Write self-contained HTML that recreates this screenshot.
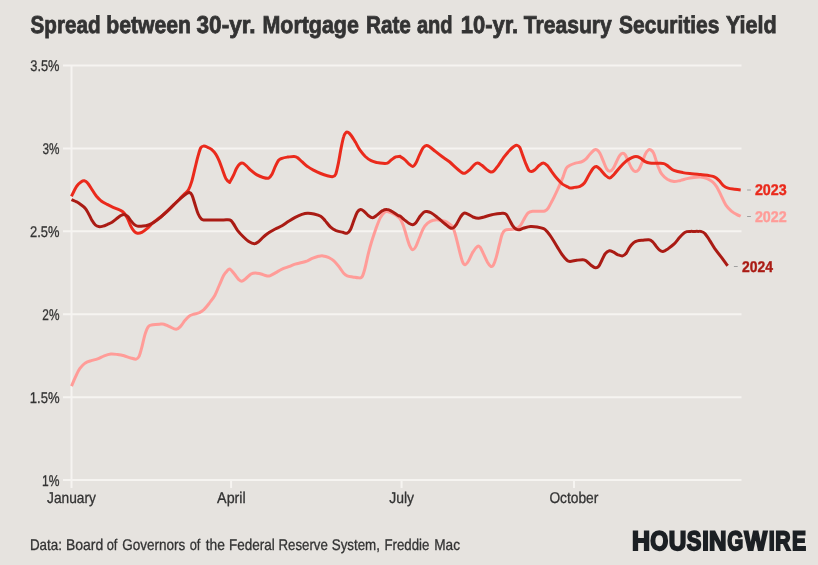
<!DOCTYPE html>
<html lang="en"><head><meta charset="utf-8"><title>Spread between 30-yr. Mortgage Rate and 10-yr. Treasury Securities Yield</title>
<style>
html,body{margin:0;padding:0;background:#e6e3df;}
body{width:818px;height:565px;overflow:hidden;}
svg{display:block;font-family:"Liberation Sans", sans-serif;text-rendering:geometricPrecision;}
</style></head><body>
<svg width="818" height="565" viewBox="0 0 818 565">
<rect width="818" height="565" fill="#e6e3df"/>
<line x1="63.0" x2="741.5" y1="65.5" y2="65.5" stroke="#f6f4f1" stroke-width="2"/>
<line x1="63.0" x2="741.5" y1="148.4" y2="148.4" stroke="#f6f4f1" stroke-width="2"/>
<line x1="63.0" x2="741.5" y1="231.3" y2="231.3" stroke="#f6f4f1" stroke-width="2"/>
<line x1="63.0" x2="741.5" y1="314.3" y2="314.3" stroke="#f6f4f1" stroke-width="2"/>
<line x1="63.0" x2="741.5" y1="397.2" y2="397.2" stroke="#f6f4f1" stroke-width="2"/>
<line x1="63.0" x2="741.5" y1="480.1" y2="480.1" stroke="#f6f4f1" stroke-width="2"/>
<line x1="71.5" x2="71.5" y1="65" y2="488" stroke="#f6f4f1" stroke-width="2"/>
<line x1="231.1" x2="231.1" y1="480" y2="488" stroke="#f6f4f1" stroke-width="2"/>
<line x1="401.6" x2="401.6" y1="480" y2="488" stroke="#f6f4f1" stroke-width="2"/>
<line x1="574.0" x2="574.0" y1="480" y2="488" stroke="#f6f4f1" stroke-width="2"/>
<text x="30.26" y="70.9" font-size="15.5" font-weight="normal" fill="#333333" textLength="29.25" lengthAdjust="spacingAndGlyphs" stroke="#333333" stroke-width="0.3">3.5%</text>
<text x="42.50" y="153.8" font-size="15.5" font-weight="normal" fill="#333333" textLength="16.97" lengthAdjust="spacingAndGlyphs" stroke="#333333" stroke-width="0.3">3%</text>
<text x="30.10" y="236.7" font-size="15.5" font-weight="normal" fill="#333333" textLength="29.41" lengthAdjust="spacingAndGlyphs" stroke="#333333" stroke-width="0.3">2.5%</text>
<text x="42.35" y="319.7" font-size="15.5" font-weight="normal" fill="#333333" textLength="17.12" lengthAdjust="spacingAndGlyphs" stroke="#333333" stroke-width="0.3">2%</text>
<text x="29.76" y="402.6" font-size="15.5" font-weight="normal" fill="#333333" textLength="29.76" lengthAdjust="spacingAndGlyphs" stroke="#333333" stroke-width="0.3">1.5%</text>
<text x="42.03" y="485.5" font-size="15.5" font-weight="normal" fill="#333333" textLength="17.45" lengthAdjust="spacingAndGlyphs" stroke="#333333" stroke-width="0.3">1%</text>
<text x="47.04" y="502.7" font-size="15.5" font-weight="normal" fill="#333333" textLength="48.84" lengthAdjust="spacingAndGlyphs" stroke="#333333" stroke-width="0.3">January</text>
<text x="217.12" y="502.7" font-size="15.5" font-weight="normal" fill="#333333" textLength="28.58" lengthAdjust="spacingAndGlyphs" stroke="#333333" stroke-width="0.3">April</text>
<text x="389.23" y="502.7" font-size="15.5" font-weight="normal" fill="#333333" textLength="24.85" lengthAdjust="spacingAndGlyphs" stroke="#333333" stroke-width="0.3">July</text>
<text x="549.40" y="502.7" font-size="15.5" font-weight="normal" fill="#333333" textLength="48.98" lengthAdjust="spacingAndGlyphs" stroke="#333333" stroke-width="0.3">October</text>
<path d="M71.5,386.1C72.2,384.5 74.1,379.8 75.5,376.8C76.9,373.9 78.2,370.7 79.9,368.4C81.6,366.1 83.6,364.2 85.4,362.9C87.3,361.6 88.9,361.3 91.0,360.7C93.0,360.0 95.4,359.7 97.6,358.9C99.8,358.1 102.0,356.6 104.2,355.8C106.4,355.0 108.6,354.3 110.9,354.0C113.1,353.8 115.3,354.2 117.5,354.5C119.7,354.8 121.9,355.2 124.1,355.8C126.3,356.4 128.7,357.5 130.8,358.0C132.8,358.6 134.9,359.4 136.3,359.1C137.7,358.8 138.2,358.2 139.2,356.2C140.1,354.3 140.8,351.1 141.8,347.4C142.8,343.7 144.0,337.6 145.1,334.1C146.2,330.6 147.2,327.9 148.5,326.4C149.7,324.8 151.0,325.2 152.9,324.8C154.7,324.5 157.7,324.3 159.5,324.2C161.4,324.1 162.3,323.8 163.9,324.2C165.6,324.6 167.4,325.8 169.5,326.6C171.5,327.5 174.3,329.3 176.1,329.3C177.9,329.2 179.0,327.9 180.5,326.4C182.0,324.9 183.5,322.1 184.9,320.4C186.4,318.7 187.9,317.0 189.4,316.0C190.8,315.0 192.1,314.8 193.8,314.2C195.4,313.7 197.7,313.4 199.3,312.7C201.0,311.9 202.1,311.4 203.7,309.8C205.4,308.2 207.4,305.6 209.3,303.2C211.1,300.8 213.1,298.4 214.8,295.4C216.4,292.5 217.7,288.8 219.2,285.5C220.7,282.2 222.3,277.9 223.6,275.5C224.9,273.1 225.9,272.2 227.0,271.1C228.0,270.0 228.8,268.7 230.0,269.2C231.2,269.7 232.9,272.3 234.4,274.0C235.9,275.8 237.6,278.4 238.8,279.6C240.1,280.7 241.0,281.3 242.2,281.1C243.3,280.9 244.4,279.6 245.9,278.5C247.4,277.3 249.4,275.0 251.0,274.0C252.6,273.1 253.8,272.9 255.4,272.9C257.1,272.9 259.1,273.6 261.0,274.0C262.8,274.5 265.0,275.5 266.5,275.8C268.0,276.1 268.3,276.3 269.8,275.8C271.3,275.3 273.3,274.0 275.3,272.9C277.4,271.8 279.8,270.2 282.0,269.2C284.2,268.1 286.4,267.6 288.6,266.7C290.8,265.9 293.0,264.8 295.2,264.1C297.4,263.4 299.8,263.1 301.9,262.5C303.9,262.0 305.6,261.5 307.4,260.8C309.2,260.0 311.1,258.8 312.9,258.1C314.8,257.4 316.8,256.7 318.5,256.3C320.1,256.0 321.2,255.7 322.9,255.9C324.5,256.1 326.6,256.6 328.4,257.4C330.2,258.3 332.1,259.1 333.9,260.8C335.8,262.4 337.8,265.3 339.5,267.4C341.1,269.5 342.6,272.2 343.9,273.6C345.2,275.0 345.7,275.2 347.2,275.8C348.7,276.4 350.9,276.6 352.7,276.9C354.6,277.2 356.7,277.8 358.3,277.8C359.8,277.8 360.9,278.5 362.0,276.9C363.1,275.4 363.9,272.3 364.9,268.5C365.9,264.7 367.1,258.6 368.2,254.1C369.3,249.7 370.2,246.2 371.5,242.0C372.8,237.7 374.5,232.8 375.9,228.7C377.4,224.6 378.9,220.4 380.4,217.6C381.8,214.9 383.5,213.1 384.8,212.1C386.1,211.1 386.6,211.4 388.1,211.7C389.6,212.0 392.2,213.1 393.6,213.9C395.1,214.6 395.9,215.3 397.0,216.1C398.0,216.9 398.9,217.2 400.0,218.7C401.1,220.3 402.2,222.4 403.3,225.4C404.4,228.3 405.5,232.9 406.6,236.4C407.7,239.9 408.9,244.2 410.0,246.4C411.0,248.6 411.8,249.7 412.8,249.7C413.8,249.7 414.8,248.4 415.9,246.4C417.0,244.4 418.2,240.5 419.5,237.5C420.7,234.6 421.9,231.1 423.2,228.7C424.6,226.3 426.0,224.6 427.6,223.2C429.3,221.8 431.3,220.8 433.2,220.3C435.0,219.7 436.9,219.7 438.7,219.9C440.5,220.0 442.4,220.2 444.2,221.0C446.1,221.7 448.3,223.2 449.8,224.3C451.2,225.4 452.0,225.2 453.1,227.6C454.2,230.0 455.3,234.6 456.4,238.6C457.5,242.7 458.7,248.0 459.7,251.9C460.7,255.8 461.7,259.7 462.6,261.9C463.5,264.0 464.2,264.9 465.2,264.7C466.2,264.6 467.3,262.9 468.6,260.8C469.8,258.6 471.5,254.3 473.0,251.9C474.4,249.5 476.2,247.2 477.4,246.4C478.6,245.6 479.0,245.8 480.0,247.1C481.1,248.3 482.4,251.7 483.6,254.1C484.8,256.6 486.2,259.8 487.3,261.9C488.5,263.9 489.7,265.7 490.7,266.3C491.7,266.8 492.4,266.7 493.3,265.2C494.2,263.7 495.2,260.9 496.2,257.4C497.2,253.9 498.5,248.0 499.5,244.2C500.5,240.3 501.2,236.5 502.2,234.2C503.1,231.9 503.6,231.1 505.0,230.2C506.4,229.4 508.7,229.6 510.6,229.4C512.4,229.1 514.4,229.4 516.1,228.7C517.8,228.0 519.0,227.2 520.5,225.4C522.0,223.5 523.6,219.7 524.9,217.6C526.2,215.5 527.0,213.8 528.3,212.8C529.5,211.7 530.8,211.5 532.7,211.2C534.5,211.0 537.3,211.3 539.3,211.2C541.3,211.2 543.4,211.5 544.8,211.0C546.3,210.5 546.9,210.0 548.2,208.1C549.4,206.3 551.0,203.0 552.6,200.0C554.1,196.9 555.7,193.8 557.4,190.0C559.2,186.2 561.5,180.7 563.0,177.1C564.4,173.4 565.1,170.2 566.3,168.2C567.5,166.3 568.5,166.2 570.0,165.3C571.5,164.5 573.7,163.7 575.5,163.1C577.4,162.6 579.4,162.6 581.1,162.0C582.7,161.4 584.0,160.7 585.5,159.4C587.0,158.1 588.4,155.9 589.9,154.3C591.4,152.7 593.1,150.6 594.3,149.9C595.5,149.1 596.1,149.3 597.0,149.9C597.9,150.4 598.8,151.3 599.9,153.2C600.9,155.0 602.1,158.3 603.2,160.9C604.3,163.5 605.4,166.9 606.5,168.6C607.6,170.4 608.7,171.3 609.8,171.3C610.9,171.3 612.0,170.2 613.1,168.6C614.2,167.1 615.3,164.2 616.4,162.0C617.5,159.8 618.7,156.9 619.8,155.4C620.8,153.9 621.7,153.2 622.6,153.2C623.6,153.1 624.3,153.5 625.3,154.9C626.3,156.4 627.5,159.7 628.6,162.0C629.7,164.3 630.8,167.1 631.9,168.6C633.0,170.2 634.1,171.3 635.2,171.5C636.3,171.7 637.4,171.2 638.6,169.8C639.7,168.4 640.8,165.7 641.9,163.1C643.0,160.5 644.1,156.5 645.2,154.3C646.3,152.1 647.6,150.6 648.5,149.9C649.4,149.1 649.9,149.3 650.7,149.9C651.6,150.4 652.7,151.3 653.6,153.2C654.5,155.0 655.4,158.5 656.2,160.9C657.1,163.3 657.5,165.3 658.5,167.5C659.4,169.8 660.3,172.2 661.8,174.2C663.2,176.1 665.3,178.0 667.3,179.3C669.3,180.5 671.7,181.3 673.9,181.5C676.1,181.7 678.4,180.8 680.6,180.4C682.8,179.9 685.0,179.1 687.2,178.6C689.4,178.1 691.6,177.8 693.8,177.5C696.0,177.2 698.3,176.9 700.5,177.1C702.7,177.2 705.1,177.8 707.1,178.6C709.1,179.4 711.0,180.4 712.6,181.9C714.3,183.4 715.6,185.0 717.1,187.4C718.5,189.8 720.0,193.3 721.5,196.3C722.9,199.2 724.2,202.7 725.9,205.1C727.6,207.6 729.6,209.5 731.4,211.1C733.3,212.7 735.4,213.8 737.0,214.6C738.5,215.5 740.1,215.9 740.7,216.2" fill="none" stroke="#ff9c98" stroke-width="3" stroke-linejoin="round" stroke-linecap="butt"/>
<path d="M71.5,196.3C72.3,194.6 75.0,188.7 76.6,186.3C78.2,183.9 79.7,182.8 81.0,181.9C82.3,181.0 83.2,180.6 84.3,180.8C85.4,181.0 86.4,181.5 87.6,183.0C88.9,184.5 90.6,187.4 92.1,189.7C93.5,191.9 95.0,194.4 96.5,196.3C98.0,198.1 99.3,199.4 100.9,200.7C102.6,202.0 104.4,202.9 106.4,204.0C108.5,205.1 110.9,206.4 113.1,207.3C115.3,208.3 117.9,209.1 119.7,210.0C121.5,210.9 122.8,211.5 124.1,212.9C125.4,214.3 126.3,216.2 127.4,218.4C128.6,220.6 129.7,224.0 130.8,226.1C131.9,228.3 133.0,230.0 134.1,231.2C135.2,232.4 136.1,233.0 137.4,233.2C138.7,233.4 140.2,233.1 141.8,232.3C143.5,231.5 145.5,229.9 147.3,228.4C149.2,226.8 150.8,224.6 152.9,222.8C154.9,221.1 157.3,219.5 159.5,217.7C161.7,216.0 163.9,214.4 166.1,212.4C168.4,210.4 170.6,208.0 172.8,205.8C175.0,203.6 177.4,201.2 179.4,199.2C181.4,197.1 183.5,195.1 184.9,193.6C186.4,192.1 187.1,192.1 188.3,190.1C189.4,188.1 190.5,185.5 191.6,181.9C192.7,178.3 193.8,173.1 194.9,168.6C196.0,164.2 197.2,158.9 198.2,155.4C199.2,151.9 199.9,149.2 200.9,147.6C201.8,146.1 202.7,146.2 203.7,146.1C204.8,146.0 205.8,146.4 207.1,147.0C208.3,147.5 210.0,148.2 211.5,149.4C212.9,150.6 214.6,152.4 215.9,154.3C217.2,156.2 218.1,158.3 219.2,160.9C220.3,163.5 221.4,166.8 222.5,169.8C223.6,172.7 224.7,176.3 225.8,178.4C227.0,180.4 228.5,181.6 229.2,182.1C229.9,182.7 229.3,182.8 230.0,181.7C230.7,180.6 232.2,178.0 233.3,175.7C234.4,173.5 235.5,170.2 236.6,168.2C237.7,166.2 238.9,164.6 240.0,163.8C241.0,162.9 241.7,162.8 242.8,163.1C243.9,163.5 245.2,164.8 246.6,166.0C247.9,167.2 249.3,169.0 251.0,170.4C252.7,171.9 254.5,173.4 256.5,174.6C258.6,175.8 261.1,176.9 263.2,177.5C265.2,178.1 267.2,178.7 268.7,178.2C270.2,177.6 270.9,176.1 272.0,174.2C273.1,172.2 274.2,168.8 275.3,166.4C276.4,164.1 277.5,161.6 278.6,160.2C279.8,158.9 280.5,158.8 282.0,158.3C283.4,157.7 285.5,157.4 287.5,157.1C289.5,156.9 292.5,156.4 294.1,156.5C295.8,156.6 296.2,156.7 297.4,157.6C298.7,158.4 300.2,160.1 301.9,161.6C303.5,163.0 305.4,165.0 307.4,166.4C309.4,167.9 311.8,169.2 314.0,170.4C316.2,171.6 318.5,172.6 320.7,173.5C322.9,174.4 325.3,175.2 327.3,175.7C329.3,176.2 331.4,176.9 332.8,176.6C334.2,176.4 334.8,176.4 335.7,174.2C336.6,171.9 337.4,167.5 338.4,163.1C339.3,158.7 340.3,152.1 341.2,147.6C342.1,143.2 342.9,139.1 343.7,136.6C344.4,134.1 345.1,133.3 345.9,132.6C346.6,131.9 347.2,131.9 348.1,132.4C349.0,132.9 350.0,133.9 351.2,135.5C352.4,137.1 353.9,139.7 355.4,142.1C356.8,144.5 358.1,147.5 359.8,149.9C361.5,152.2 363.5,154.7 365.3,156.5C367.2,158.3 369.1,159.7 371.1,160.7C373.0,161.7 375.1,162.0 377.1,162.5C379.0,162.9 380.8,163.2 382.6,163.3C384.3,163.5 386.0,163.7 387.4,163.1C388.9,162.5 390.0,160.8 391.4,159.8C392.8,158.8 394.4,157.5 395.8,156.9C397.2,156.4 399.1,156.6 399.8,156.5C400.5,156.4 399.2,156.0 400.0,156.5C400.8,157.0 402.9,158.1 404.4,159.4C405.9,160.6 407.4,162.6 408.8,163.8C410.2,165.0 411.6,166.5 412.8,166.4C414.0,166.3 414.8,165.0 415.9,163.1C417.0,161.2 418.2,157.5 419.5,154.9C420.7,152.4 422.0,149.2 423.2,147.6C424.4,146.1 425.4,145.5 426.5,145.4C427.6,145.3 428.4,146.0 429.9,147.0C431.3,148.0 433.4,149.8 435.4,151.4C437.4,153.0 439.6,154.7 442.0,156.5C444.4,158.3 447.4,160.1 449.8,162.0C452.1,164.0 454.4,166.4 456.4,168.2C458.4,170.0 460.4,171.8 461.9,172.6C463.4,173.4 463.9,173.6 465.2,173.1C466.5,172.6 468.2,171.1 469.7,169.8C471.1,168.4 472.7,166.0 474.1,164.9C475.4,163.8 476.5,163.0 477.8,163.1C479.1,163.2 480.4,164.3 481.8,165.3C483.2,166.3 484.8,168.0 486.2,169.1C487.7,170.2 489.4,171.7 490.7,172.0C492.0,172.3 492.7,172.0 494.0,170.9C495.3,169.8 496.7,167.6 498.4,165.3C500.1,163.0 502.1,159.6 503.9,157.1C505.8,154.7 507.8,152.3 509.5,150.5C511.1,148.7 512.6,147.4 513.9,146.5C515.2,145.7 516.2,145.2 517.2,145.4C518.2,145.6 518.9,146.0 519.9,147.6C520.8,149.3 521.7,152.6 522.7,155.4C523.8,158.1 525.0,161.7 526.0,164.2C527.1,166.7 528.0,169.2 528.9,170.4C529.8,171.6 530.6,171.6 531.6,171.5C532.6,171.4 533.6,170.8 534.9,169.8C536.2,168.7 537.9,166.4 539.3,165.3C540.7,164.2 542.0,163.1 543.3,163.1C544.6,163.1 545.7,164.0 547.1,165.3C548.4,166.7 549.8,169.1 551.5,171.3C553.1,173.5 555.2,176.5 557.0,178.6C558.8,180.7 560.7,182.7 562.5,184.1C564.4,185.5 566.8,186.3 568.1,187.0C569.3,187.7 568.9,188.0 570.0,188.1C571.1,188.2 572.8,187.7 574.4,187.4C576.1,187.1 578.3,187.1 580.0,186.3C581.6,185.6 582.9,184.9 584.4,183.0C585.8,181.2 587.3,177.8 588.8,175.3C590.3,172.8 591.9,169.7 593.2,168.2C594.5,166.7 595.4,166.3 596.5,166.4C597.6,166.6 598.4,167.6 599.9,169.1C601.3,170.6 603.7,173.8 605.4,175.3C607.0,176.8 608.3,178.1 609.8,177.9C611.3,177.8 612.6,175.9 614.2,174.2C615.9,172.4 617.7,169.8 619.8,167.5C621.8,165.3 624.4,162.6 626.4,160.9C628.4,159.3 630.3,158.3 631.9,157.6C633.5,156.9 634.6,156.5 635.9,156.5C637.2,156.5 638.1,156.7 639.7,157.6C641.2,158.4 643.5,160.7 645.2,161.6C646.8,162.5 647.6,162.8 649.6,163.1C651.6,163.4 655.0,163.3 657.3,163.3C659.7,163.4 662.1,163.0 664.0,163.6C665.8,164.1 666.7,165.3 668.4,166.4C670.1,167.6 671.5,169.4 673.9,170.4C676.3,171.4 679.8,172.1 682.8,172.6C685.7,173.2 688.7,173.4 691.6,173.7C694.6,174.1 697.5,174.3 700.5,174.6C703.4,175.0 706.9,175.3 709.3,175.7C711.7,176.1 713.2,176.2 714.8,177.1C716.5,177.9 717.8,179.3 719.3,180.8C720.7,182.3 722.2,184.7 723.7,185.9C725.2,187.1 726.3,187.6 728.1,188.1C730.0,188.7 732.6,188.9 734.7,189.2C736.8,189.5 739.7,189.8 740.7,189.9" fill="none" stroke="#ea2a1c" stroke-width="3" stroke-linejoin="round" stroke-linecap="butt"/>
<path d="M71.5,199.6C72.3,200.0 75.0,201.0 76.6,201.8C78.2,202.7 79.5,203.6 81.0,204.7C82.5,205.8 84.1,206.9 85.4,208.5C86.7,210.0 87.6,212.0 88.7,214.0C89.9,216.0 91.0,218.8 92.1,220.6C93.2,222.5 94.3,224.0 95.4,225.0C96.5,226.0 97.4,226.4 98.7,226.6C100.0,226.8 101.6,226.5 103.1,226.1C104.6,225.8 106.1,225.0 107.5,224.4C109.0,223.7 110.5,223.1 112.0,222.2C113.4,221.2 114.9,220.0 116.4,218.8C117.9,217.7 119.5,216.3 120.8,215.5C122.1,214.8 123.0,214.3 124.1,214.4C125.2,214.5 126.3,215.2 127.4,216.2C128.6,217.2 129.7,219.3 130.8,220.6C131.9,222.0 133.0,223.5 134.1,224.4C135.2,225.3 135.9,225.8 137.4,226.1C138.9,226.4 141.1,226.3 142.9,226.1C144.8,226.0 146.6,225.7 148.5,225.0C150.3,224.4 152.0,223.5 154.0,222.2C156.0,220.9 158.4,219.1 160.6,217.3C162.8,215.5 165.0,213.2 167.2,211.1C169.5,209.0 171.7,206.8 173.9,204.7C176.1,202.6 178.5,200.3 180.5,198.5C182.5,196.7 184.6,195.1 186.0,194.1C187.5,193.1 188.4,192.3 189.4,192.5C190.4,192.7 191.1,193.3 192.0,195.2C192.9,197.1 193.9,200.9 194.9,204.0C195.9,207.2 197.1,211.5 198.2,214.0C199.3,216.5 200.4,218.1 201.5,219.1C202.6,220.1 202.6,219.8 204.8,220.0C207.1,220.1 211.7,220.0 214.8,220.0C217.9,220.0 221.1,220.0 223.6,220.0C226.2,220.0 228.4,219.4 230.0,220.0C231.6,220.5 232.0,221.7 233.3,223.5C234.6,225.3 236.1,228.4 237.7,230.6C239.4,232.8 241.4,234.9 243.3,236.8C245.1,238.6 247.0,240.4 248.8,241.6C250.6,242.8 252.7,243.8 254.3,243.8C256.0,243.8 257.3,242.7 258.7,241.6C260.2,240.5 261.5,238.7 263.2,237.2C264.8,235.7 266.7,234.1 268.7,232.8C270.7,231.4 273.1,230.2 275.3,229.0C277.5,227.8 279.8,227.0 282.0,225.7C284.2,224.4 286.4,222.7 288.6,221.3C290.8,219.9 293.0,218.4 295.2,217.3C297.4,216.2 299.8,215.1 301.9,214.4C303.9,213.8 305.4,213.4 307.4,213.3C309.4,213.2 311.8,213.5 314.0,214.0C316.2,214.5 318.8,215.1 320.7,216.2C322.5,217.3 323.4,218.8 325.1,220.6C326.7,222.5 328.8,225.6 330.6,227.2C332.5,228.9 334.1,229.7 336.1,230.6C338.2,231.4 340.9,231.9 342.8,232.3C344.6,232.8 345.9,233.7 347.2,233.2C348.5,232.7 349.4,231.6 350.5,229.5C351.6,227.4 352.7,223.5 353.8,220.6C354.9,217.8 356.0,214.3 357.1,212.4C358.3,210.6 359.4,209.8 360.5,209.6C361.6,209.3 362.5,210.1 363.8,211.1C365.1,212.1 366.7,214.4 368.2,215.5C369.7,216.6 371.2,217.8 372.6,217.7C374.1,217.7 375.4,216.3 377.1,215.1C378.7,213.9 380.9,211.6 382.6,210.7C384.2,209.7 385.5,209.5 387.0,209.6C388.5,209.6 389.6,210.1 391.4,211.1C393.3,212.1 396.6,214.7 398.1,215.5C399.5,216.4 398.9,215.4 400.0,216.1C401.1,216.8 402.9,218.7 404.4,219.9C405.9,221.0 407.4,222.4 408.8,223.2C410.2,224.0 411.6,224.8 412.8,224.7C414.0,224.6 414.7,224.1 415.9,222.7C417.1,221.4 418.6,218.3 419.9,216.5C421.2,214.8 422.8,213.0 423.9,212.1C425.0,211.3 425.4,211.3 426.5,211.4C427.7,211.6 429.1,211.7 431.0,212.8C432.8,213.8 435.4,215.9 437.6,217.6C439.8,219.4 442.2,221.5 444.2,223.2C446.3,224.8 448.3,226.8 449.8,227.6C451.2,228.4 452.0,228.6 453.1,228.0C454.2,227.5 455.1,226.2 456.4,224.3C457.7,222.4 459.5,218.4 460.8,216.5C462.1,214.7 463.0,213.7 464.1,213.2C465.2,212.8 466.0,213.3 467.4,213.9C468.9,214.5 471.1,216.2 473.0,217.0C474.8,217.7 476.7,218.3 478.5,218.3C480.3,218.3 482.0,217.5 484.0,217.0C486.1,216.4 488.5,215.5 490.7,215.0C492.9,214.4 495.3,214.0 497.3,213.7C499.3,213.4 501.4,213.1 502.8,213.2C504.3,213.3 505.0,213.2 506.1,214.3C507.2,215.4 508.4,217.9 509.5,219.9C510.6,221.8 511.7,224.3 512.8,225.8C513.9,227.4 515.0,228.5 516.1,229.1C517.2,229.8 518.1,230.0 519.4,229.8C520.7,229.6 522.0,228.6 523.8,228.0C525.7,227.5 528.3,226.7 530.5,226.5C532.7,226.3 534.9,226.6 537.1,226.9C539.3,227.3 542.1,227.9 543.7,228.7C545.4,229.5 545.8,230.1 547.1,231.6C548.3,233.0 549.8,235.1 551.5,237.5C553.1,240.0 555.2,243.4 557.0,246.4C558.8,249.3 560.9,252.9 562.5,255.2C564.2,257.6 565.7,259.3 567.0,260.3C568.2,261.4 568.4,261.4 570.0,261.4C571.6,261.4 574.4,260.6 576.6,260.3C578.8,260.0 581.6,259.5 583.3,259.7C584.9,259.8 585.3,260.3 586.6,261.2C587.9,262.1 589.5,264.1 591.0,265.2C592.5,266.3 594.1,267.7 595.4,267.8C596.7,268.0 597.6,267.7 598.7,266.3C599.9,264.9 601.0,261.8 602.1,259.7C603.2,257.5 604.2,254.9 605.4,253.5C606.6,252.0 608.1,251.1 609.4,250.8C610.7,250.6 611.8,251.3 613.1,251.9C614.5,252.5 616.0,253.9 617.5,254.6C619.1,255.2 621.2,256.2 622.6,255.9C624.1,255.6 625.2,254.5 626.4,253.0C627.6,251.5 628.5,248.8 629.7,247.1C630.9,245.3 632.4,243.7 633.7,242.6C635.0,241.6 635.9,241.3 637.4,240.9C639.0,240.5 641.0,240.4 643.0,240.2C644.9,240.0 647.5,239.5 649.2,239.8C650.8,240.0 651.7,240.9 652.9,242.0C654.1,243.1 655.1,245.0 656.2,246.4C657.3,247.8 658.5,249.3 659.6,250.1C660.7,251.0 661.6,251.6 662.9,251.5C664.2,251.3 665.5,250.5 667.3,249.3C669.1,248.0 671.9,246.1 673.9,244.2C676.0,242.2 677.8,239.4 679.5,237.5C681.1,235.7 682.7,234.1 683.9,233.1C685.1,232.1 685.7,231.9 686.8,231.6C687.9,231.3 689.3,231.4 690.5,231.4C691.7,231.3 692.5,231.4 693.8,231.4C695.1,231.4 697.0,231.3 698.3,231.4C699.5,231.4 700.5,231.2 701.6,231.6C702.7,231.9 703.6,232.2 704.9,233.6C706.2,234.9 707.7,237.2 709.3,239.8C711.0,242.3 712.8,245.7 714.8,248.6C716.9,251.5 719.3,254.6 721.5,257.4C723.6,260.3 726.6,264.4 727.7,265.8" fill="none" stroke="#aa1b14" stroke-width="3" stroke-linejoin="round" stroke-linecap="butt"/>
<line x1="747.1" x2="750.9" y1="190.0" y2="190.0" stroke="#a0a0a0" stroke-width="1"/>
<text x="754.90" y="194.7" font-size="15.5" font-weight="bold" fill="#ea2a1c" textLength="31.81" lengthAdjust="spacingAndGlyphs" stroke="#ea2a1c" stroke-width="0.4">2023</text>
<line x1="747.1" x2="750.9" y1="216.5" y2="216.5" stroke="#a0a0a0" stroke-width="1"/>
<text x="754.90" y="221.8" font-size="15.5" font-weight="bold" fill="#ff9c98" textLength="31.87" lengthAdjust="spacingAndGlyphs" stroke="#ff9c98" stroke-width="0.4">2022</text>
<line x1="733.9" x2="737.7" y1="266.5" y2="266.5" stroke="#a0a0a0" stroke-width="1"/>
<text x="742.12" y="272.3" font-size="15.5" font-weight="bold" fill="#aa1b14" textLength="30.96" lengthAdjust="spacingAndGlyphs" stroke="#aa1b14" stroke-width="0.4">2024</text>
<text y="33.15" font-size="24.4" font-weight="bold" fill="#333333" stroke="#333333" stroke-width="0.8"><tspan x="30.50" textLength="70.06" lengthAdjust="spacingAndGlyphs">Spread</tspan> <tspan x="106.20" textLength="84.81" lengthAdjust="spacingAndGlyphs">between</tspan> <tspan x="196.59" textLength="58.93" lengthAdjust="spacingAndGlyphs">30-yr.</tspan> <tspan x="262.47" textLength="96.36" lengthAdjust="spacingAndGlyphs">Mortgage</tspan> <tspan x="365.91" textLength="45.00" lengthAdjust="spacingAndGlyphs">Rate</tspan> <tspan x="416.91" textLength="35.71" lengthAdjust="spacingAndGlyphs">and</tspan> <tspan x="460.74" textLength="57.44" lengthAdjust="spacingAndGlyphs">10-yr.</tspan> <tspan x="523.87" textLength="87.85" lengthAdjust="spacingAndGlyphs">Treasury</tspan> <tspan x="619.10" textLength="100.37" lengthAdjust="spacingAndGlyphs">Securities</tspan> <tspan x="725.94" textLength="50.76" lengthAdjust="spacingAndGlyphs">Yield</tspan></text>
<text y="549.6" font-size="15.5" font-weight="normal" fill="#333333" stroke="#333333" stroke-width="0.3"><tspan x="29.95" textLength="32.02" lengthAdjust="spacingAndGlyphs">Data:</tspan> <tspan x="65.90" textLength="37.35" lengthAdjust="spacingAndGlyphs">Board</tspan> <tspan x="106.71" textLength="10.72" lengthAdjust="spacingAndGlyphs">of</tspan> <tspan x="122.17" textLength="63.07" lengthAdjust="spacingAndGlyphs">Governors</tspan> <tspan x="189.71" textLength="10.72" lengthAdjust="spacingAndGlyphs">of</tspan> <tspan x="205.74" textLength="19.22" lengthAdjust="spacingAndGlyphs">the</tspan> <tspan x="229.04" textLength="45.71" lengthAdjust="spacingAndGlyphs">Federal</tspan> <tspan x="278.46" textLength="49.38" lengthAdjust="spacingAndGlyphs">Reserve</tspan> <tspan x="331.74" textLength="48.21" lengthAdjust="spacingAndGlyphs">System,</tspan> <tspan x="384.46" textLength="44.98" lengthAdjust="spacingAndGlyphs">Freddie</tspan> <tspan x="434.23" textLength="25.78" lengthAdjust="spacingAndGlyphs">Mac</tspan></text>
<text y="549.85" font-size="26.9" font-weight="bold" fill="#1c2024" stroke="#1c2024" stroke-width="1.9" stroke-linejoin="miter"><tspan x="631.88" textLength="18.06" lengthAdjust="spacingAndGlyphs">H</tspan><tspan x="650.20" textLength="18.02" lengthAdjust="spacingAndGlyphs">O</tspan><tspan x="668.79" textLength="17.54" lengthAdjust="spacingAndGlyphs">U</tspan><tspan x="686.82" textLength="14.58" lengthAdjust="spacingAndGlyphs">S</tspan><tspan x="702.37" textLength="6.56" lengthAdjust="spacingAndGlyphs">I</tspan><tspan x="708.93" textLength="17.44" lengthAdjust="spacingAndGlyphs">N</tspan><tspan x="727.31" textLength="16.02" lengthAdjust="spacingAndGlyphs">G</tspan><tspan x="744.23" textLength="22.85" lengthAdjust="spacingAndGlyphs">W</tspan><tspan x="768.71" textLength="5.98" lengthAdjust="spacingAndGlyphs">I</tspan><tspan x="775.23" textLength="15.36" lengthAdjust="spacingAndGlyphs">R</tspan><tspan x="791.94" textLength="14.03" lengthAdjust="spacingAndGlyphs">E</tspan></text>
</svg>
</body></html>
